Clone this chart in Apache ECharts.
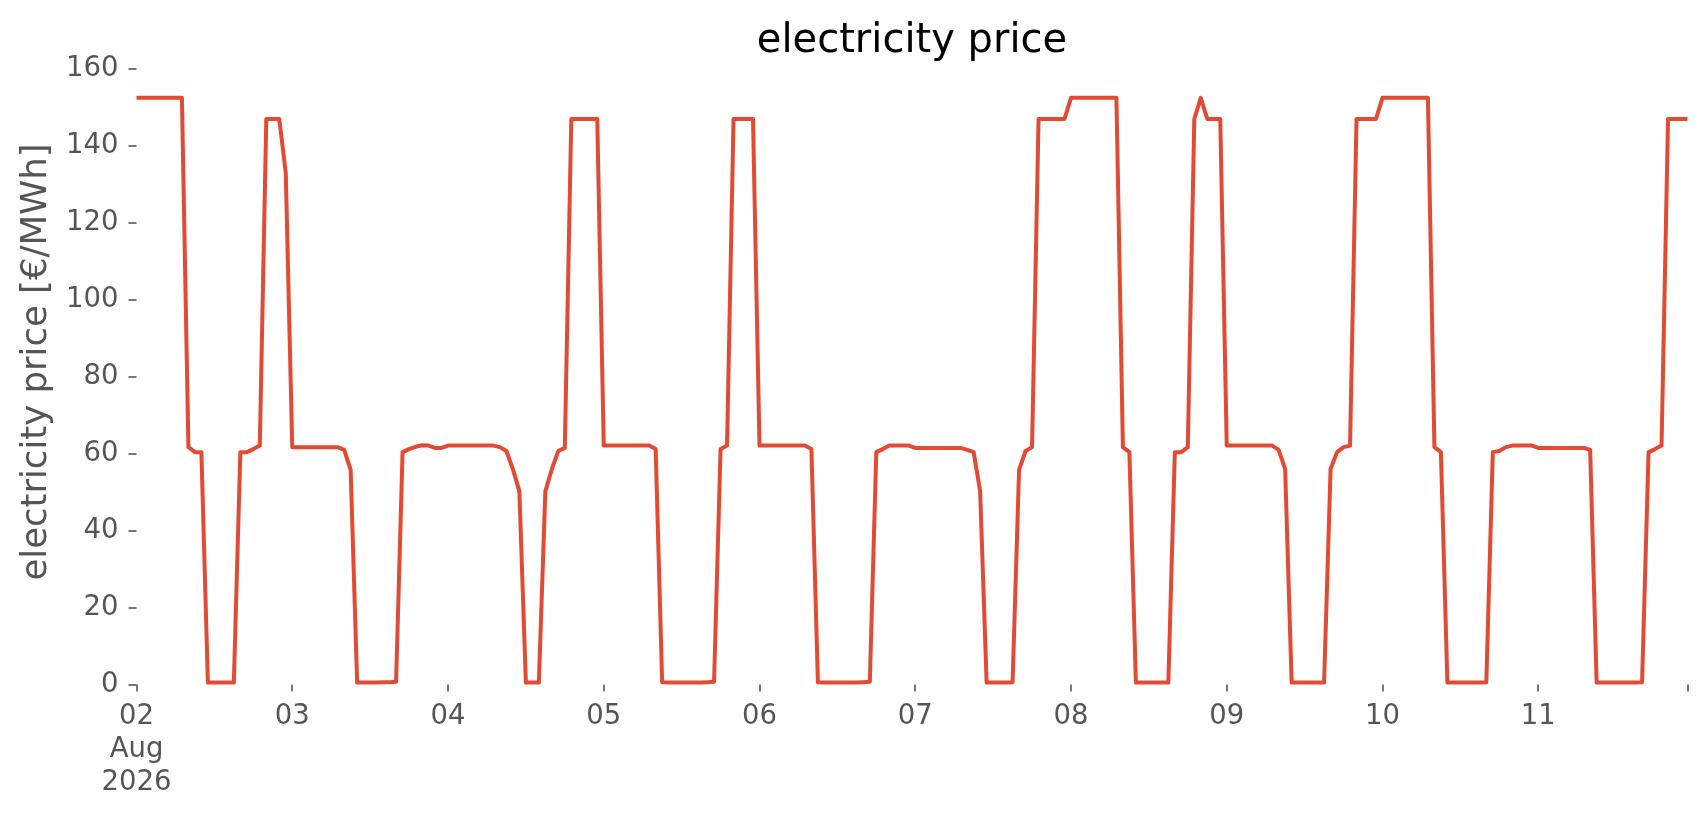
<!DOCTYPE html>
<html>
<head>
<meta charset="utf-8">
<script src="https://cdn.jsdelivr.net/npm/echarts@6/dist/echarts.min.js"></script>
<style>
html,body{margin:0;padding:0;background:#ffffff;}
#chart{width:1706px;height:815px;}
</style>
</head>
<body>
<div id="chart"></div>
<script>
// ---- data (hourly electricity price, €/MWh) ----
const startTime = Date.UTC(2026, 7, 2, 0, 0, 0); // 02 Aug 2026 00:00
const hourMs = 3600000;
const dayMs = 86400000;

const aug02 = [152.5,152.5,152.5,152.5,152.5,152.5,152.5,152.5,61.7,60.4,60.4,0.5,0.5,0.5,0.5,0.5,60.4,60.4,61.2,62.1,147,147,147,133];
const aug03 = [61.7,61.7,61.7,61.7,61.7,61.7,61.7,61.7,61.0,55.8,0.5,0.5,0.5,0.5,0.6,0.6,0.7,60.4,61.2,61.8,62.2,62.1,61.5,61.5];
const aug04 = [62.1,62.1,62.1,62.1,62.1,62.1,62.1,62.1,61.7,60.7,56.0,50.2,0.5,0.5,0.5,50.2,56.0,60.7,61.5,147,147,147,147,147];
const aug05 = [62.1,62.1,62.1,62.1,62.1,62.1,62.1,62.1,61.2,0.6,0.5,0.5,0.5,0.5,0.5,0.5,0.6,0.7,61.2,62.1,147,147,147,147];
const aug06 = [62.1,62.1,62.1,62.1,62.1,62.1,62.1,62.1,61.2,0.6,0.5,0.5,0.5,0.5,0.5,0.5,0.6,0.7,60.4,61.2,62.1,62.1,62.1,62.1];
const aug07 = [61.5,61.5,61.5,61.5,61.5,61.5,61.5,61.5,61.0,60.4,50.2,0.5,0.5,0.5,0.5,0.6,55.8,60.7,61.7,147,147,147,147,147];
const aug08 = [152.5,152.5,152.5,152.5,152.5,152.5,152.5,152.5,61.7,60.4,0.5,0.5,0.5,0.5,0.5,0.5,60.4,60.4,61.7,147,152.5,147,147,147];
const aug09 = [62.1,62.1,62.1,62.1,62.1,62.1,62.1,62.1,61.0,56.0,0.5,0.5,0.5,0.5,0.5,0.5,56.0,60.4,61.7,62.1,147,147,147,147];
const aug10 = [152.5,152.5,152.5,152.5,152.5,152.5,152.5,152.5,61.7,60.4,0.5,0.5,0.5,0.5,0.5,0.5,0.6,60.4,60.7,61.7,62.1,62.1,62.1,62.1];
const aug11 = [61.5,61.5,61.5,61.5,61.5,61.5,61.5,61.5,61.0,0.5,0.5,0.5,0.5,0.5,0.5,0.5,0.6,60.4,61.2,62.1,147,147,147,147];

const dayLabels = ['02\nAug\n2026','03','04','05','06','07','08','09','10','11'];
const yTicks = {min: 0, max: 160, step: 20};
const yAxisTitle = 'electricity price [€/MWh]';
const chartTitle = 'electricity price';

const allDays = [aug02, aug03, aug04, aug05, aug06, aug07, aug08, aug09, aug10, aug11];
const seriesData = [];
allDays.forEach((day, d) => {
  day.forEach((v, h) => {
    seriesData.push([startTime + (d * 24 + h) * hourMs, v]);
  });
});
const endTime = seriesData[seriesData.length - 1][0];

const FONT = 'DejaVu Sans';
const GREY = '#555555';

const chart = echarts.init(document.getElementById('chart'), null, {renderer: 'canvas'});
chart.setOption({
  backgroundColor: '#ffffff',
  animation: false,
  title: {
    text: chartTitle,
    left: 907,
    top: 17,
    textAlign: 'center',
    textStyle: {fontFamily: FONT, fontSize: 40, fontWeight: 'normal', color: '#000000'}
  },
  graphic: [{
    type: 'text',
    x: 37,
    y: 362,
    rotation: Math.PI / 2,
    style: {
      text: yAxisTitle,
      fontFamily: FONT,
      fontSize: 35.5,
      fill: GREY,
      align: 'center',
      verticalAlign: 'middle'
    }
  }],
  grid: {left: 136.5, right: 18.5, top: 69, bottom: 130.5, containLabel: false, show: false},
  xAxis: {
    type: 'value',
    min: startTime,
    max: endTime,
    interval: dayMs,
    offset: 4,
    axisLine: {show: false},
    axisTick: {show: true, length: 7, inside: false, lineStyle: {color: GREY, width: 1.6}},
    splitLine: {show: false},
    axisLabel: {
      show: true,
      margin: 12,
      color: GREY,
      fontFamily: FONT,
      fontSize: 27.5,
      lineHeight: 33,
      align: 'center',
      showMinLabel: true,
      showMaxLabel: true,
      hideOverlap: false,
      formatter: function (v) {
        const off = v - startTime;
        if (off % dayMs !== 0) return '';
        const k = Math.round(off / dayMs);
        return dayLabels[k] !== undefined ? dayLabels[k] : '';
      }
    }
  },
  yAxis: {
    type: 'value',
    min: yTicks.min,
    max: yTicks.max,
    interval: yTicks.step,
    axisLine: {show: false},
    axisTick: {show: true, length: 8, inside: false, lineStyle: {color: GREY, width: 1.6}},
    splitLine: {show: false},
    axisLabel: {margin: 18, color: GREY, fontFamily: FONT, fontSize: 27.5}
  },
  series: [{
    type: 'line',
    data: seriesData,
    showSymbol: false,
    symbol: 'none',
    clip: true,
    lineStyle: {color: '#E24A33', width: 4, join: 'round', cap: 'butt'},
    emphasis: {disabled: true}
  }]
});
</script>
</body>
</html>
